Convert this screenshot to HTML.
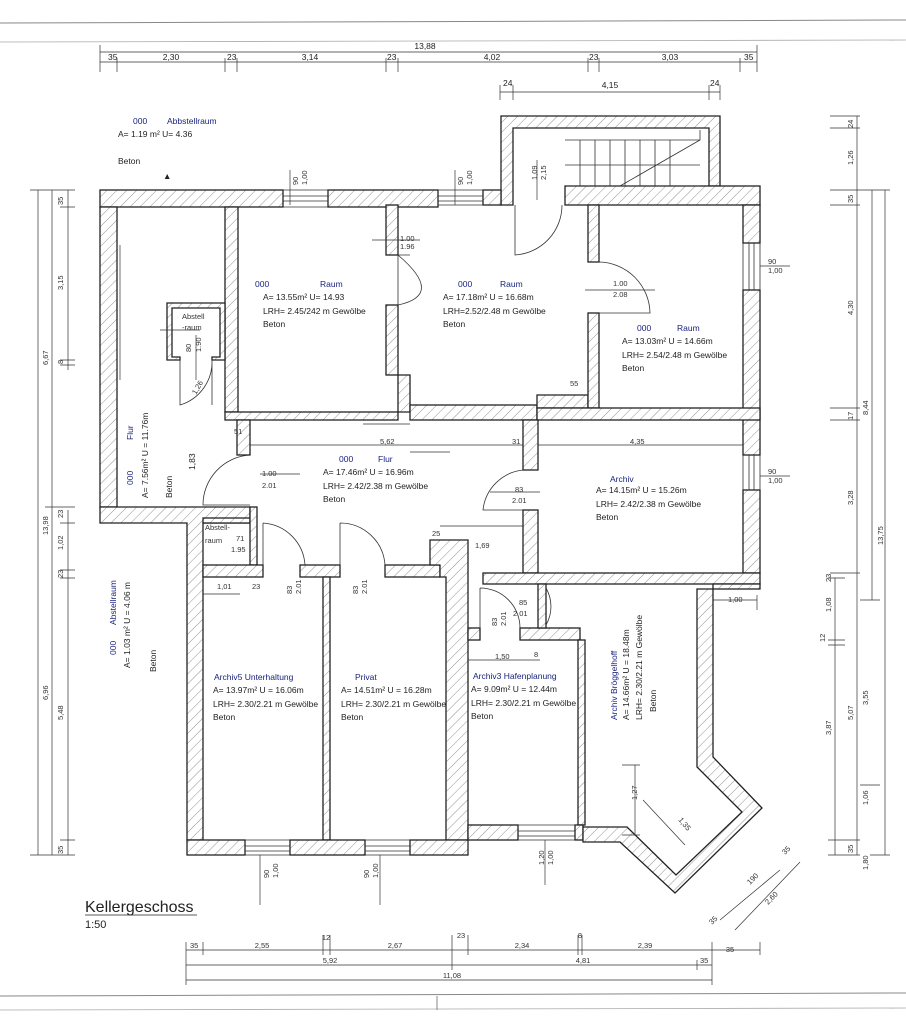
<!DOCTYPE html>
<html><head><meta charset="utf-8"><style>
html,body{margin:0;padding:0;background:#fff}
svg{display:block}
text{font-family:"Liberation Sans",sans-serif;font-size:8.5px;fill:#222}
.b{fill:#1a237e}
.s{font-size:7.5px;fill:#333}
</style></head><body>
<svg width="906" height="1024" viewBox="0 0 906 1024" xmlns="http://www.w3.org/2000/svg">
<defs>
<pattern id="h" width="7" height="7" patternUnits="userSpaceOnUse" patternTransform="rotate(45)">
<rect width="7" height="7" fill="#fff"/><line x1="0" y1="0" x2="0" y2="7" stroke="#777" stroke-width="0.8"/>
</pattern>
</defs>
<line x1="0" y1="23" x2="906" y2="20" stroke="#888" stroke-width="1"/>
<line x1="0" y1="42" x2="906" y2="40" stroke="#aaa" stroke-width="0.8"/>
<line x1="0" y1="996" x2="906" y2="993" stroke="#888" stroke-width="1"/>
<line x1="0" y1="1010" x2="906" y2="1008" stroke="#aaa" stroke-width="0.8"/>
<line x1="437" y1="996" x2="437" y2="1010" stroke="#888"/>

<g fill="url(#h)" stroke="#222" stroke-width="1.3">
<path d="M501,116 H720 V186 H709 V128 H513 V205 H501 Z"/>
<rect x="100" y="190" width="183" height="17"/>
<rect x="328" y="190" width="110" height="17"/>
<rect x="483" y="190" width="18" height="15"/>
<rect x="565" y="186" width="195" height="19"/>
<rect x="100" y="207" width="17" height="300"/>
<path d="M100,507 H250 V523 H203 V840 H187 V523 H100 Z"/>
<rect x="743" y="205" width="17" height="38"/>
<rect x="743" y="290" width="17" height="165"/>
<rect x="743" y="490" width="17" height="83"/>
<rect x="225" y="207" width="13" height="205"/>
<rect x="225" y="412" width="173" height="8"/>
<rect x="237" y="420" width="13" height="35"/>
<rect x="386" y="205" width="12" height="50"/>
<rect x="386" y="305" width="12" height="70"/>
<path d="M398,375 H410 V412 H398 Z"/>
<rect x="410" y="405" width="127" height="15"/>
<path d="M537,395 H588 V408 H537 Z"/>
<rect x="588" y="205" width="11" height="57"/>
<rect x="588" y="313" width="11" height="95"/>
<rect x="537" y="408" width="223" height="12"/>
<rect x="523" y="420" width="15" height="50"/>
<rect x="523" y="510" width="15" height="63"/>
<rect x="483" y="573" width="277" height="11"/>
<rect x="713" y="584" width="47" height="5"/>
<path d="M167,303 H225 V360 H212 V357 H220 V308 H172 V357 H180 V360 H167 Z"/>
<rect x="203" y="518" width="47" height="5"/>
<rect x="250" y="507" width="7" height="58"/>
<rect x="203" y="565" width="60" height="12"/>
<rect x="300" y="565" width="40" height="12"/>
<rect x="385" y="565" width="55" height="12"/>
<rect x="323" y="577" width="7" height="263"/>
<path d="M430,540 H468 V840 H446 V577 H440 V565 H430 Z"/>
<rect x="468" y="628" width="12" height="12"/>
<rect x="520" y="628" width="60" height="12"/>
<rect x="538" y="584" width="8" height="44"/>
<rect x="578" y="640" width="7" height="185"/>
<rect x="187" y="840" width="58" height="15"/>
<rect x="290" y="840" width="75" height="15"/>
<rect x="410" y="840" width="58" height="15"/>
<rect x="468" y="825" width="50" height="15"/>
<rect x="575" y="825" width="8" height="15"/>
<path d="M713,589 V757 L762,808 L675,893 L620,842 H583 V827 H627 L676,875 L742,812 L697,767 V589 Z"/>
</g>
<g fill="none" stroke="#333" stroke-width="0.8">
<path d="M283,190 H328 M283,196 H328 M283,201 H328 M283,207 H328"/>
<path d="M438,190 H483 M438,196 H483 M438,201 H483 M438,205 H483"/>
<path d="M245,840 H290 M245,846 H290 M245,851 H290 M245,855 H290"/>
<path d="M365,840 H410 M365,846 H410 M365,851 H410 M365,855 H410"/>
<path d="M518,825 H575 M518,831 H575 M518,836 H575 M518,840 H575"/>
<path d="M743,243 V290 M749,243 V290 M754,243 V290 M760,243 V290"/>
<path d="M743,455 V490 M749,455 V490 M754,455 V490 M760,455 V490"/>
<path d="M565,140 H700 M565,165 H700 M565,186 H700"/>
<path d="M580,140 V186 M595,140 V186 M610,140 V186 M625,140 V186 M640,140 V186 M655,140 V186 M670,140 V186"/>
<path d="M620,186 L700,140 V130"/>
<path d="M398,255 H410 M398,255 V305 M398,255 Q445,295 398,305"/>
<path d="M515,205 V255 A50,50 0 0 0 562,205"/>
<path d="M599,262 A52,52 0 0 1 650,313 H599"/>
<path d="M180,360 V405 A45,45 0 0 0 212,360 M212,360 V405"/>
<path d="M250,455 A50,50 0 0 0 203,505 H250"/>
<path d="M523,470 A45,45 0 0 0 483,510 H523"/>
<path d="M263,523 A45,45 0 0 1 305,565 M263,523 V565"/>
<path d="M340,523 A45,45 0 0 1 385,565 M340,523 V565"/>
<path d="M480,588 A40,40 0 0 1 520,628 M480,588 V628"/>
<path d="M546,588 A37,37 0 0 1 546,625"/>
</g>

<g stroke="#333" stroke-width="0.7" fill="none">
<path d="M100,52 H757 M100,62 H757 M500,92 H720"/>
<path d="M100,45 V72 M117,58 V72 M225,58 V72 M237,58 V72 M386,58 V72 M398,58 V72 M588,58 V72 M599,58 V72 M740,58 V72 M757,45 V72 M500,85 V100 M513,85 V100 M709,85 V100 M720,85 V100"/>
<path d="M38,190 V855 M52,190 V855 M68,190 V370 M68,510 V855"/>
<path d="M30,190 H75 M60,207 H75 M60,360 H75 M60,365 H75 M45,507 H75 M60,523 H75 M60,570 H75 M60,578 H75 M30,855 H75 M60,840 H75"/>
<path d="M835,578 V855 M857,116 V855 M872,190 V600 M885,190 V855"/>
<path d="M830,116 H860 M830,128 H860 M830,190 H890 M830,205 H860 M830,408 H860 M830,420 H860 M830,573 H860 M828,578 H845 M828,640 H845 M828,645 H845 M860,600 H880 M860,785 H880 M828,840 H860 M828,855 H860 M870,855 H890"/>
<path d="M186,950 H760 M186,965 H712 M186,980 H712"/>
<path d="M186,942 V985 M203,942 V955 M323,935 V955 M330,935 V955 M452,935 V970 M468,935 V955 M578,935 V955 M582,935 V955 M712,942 V985 M760,942 V955 M697,960 V970"/>
<path d="M643,800 L685,845 M635,765 V835 M622,765 H640 M622,835 H640"/>
<path d="M780,870 L720,920 M800,862 L735,930 M713,600 H757 M757,595 V610"/>
<path d="M363,424 H410 M250,445 H523 M538,445 H743 M410,452 H450 M490,492 H540 M440,526 H523 M203,594 H240 M468,660 H540 M372,240 H420 M585,290 H655 M260,474 H300 M160,330 H200"/>
</g>
<g stroke="#333" stroke-width="0.7">
<line x1="290" y1="170" x2="290" y2="205"/><line x1="455" y1="170" x2="455" y2="205"/>
<line x1="537" y1="160" x2="537" y2="200"/>
<line x1="760" y1="266" x2="790" y2="266"/><line x1="760" y1="476" x2="790" y2="476"/>
<line x1="260" y1="855" x2="260" y2="905"/><line x1="380" y1="855" x2="380" y2="905"/><line x1="545" y1="840" x2="545" y2="885"/>
<line x1="196" y1="335" x2="196" y2="380"/>
<line x1="120" y1="245" x2="120" y2="380"/>
</g>

<g>
<text x="425" y="49" text-anchor="middle">13,88</text>
<text x="108" y="60">35</text><text x="171" y="60" text-anchor="middle">2,30</text>
<text x="227" y="60">23</text><text x="310" y="60" text-anchor="middle">3,14</text>
<text x="387" y="60">23</text><text x="492" y="60" text-anchor="middle">4,02</text>
<text x="589" y="60">23</text><text x="670" y="60" text-anchor="middle">3,03</text>
<text x="744" y="60">35</text>
<text x="503" y="86">24</text><text x="610" y="88" text-anchor="middle">4,15</text><text x="710" y="86">24</text>

<text x="133" y="124" class="b">000</text><text x="167" y="124" class="b">Abbstellraum</text>
<text x="118" y="137">A=  1.19 m²  U=  4.36</text>
<text x="118" y="164">Beton</text>
<text x="163" y="179">▲</text>

<text x="255" y="287" class="b">000</text><text x="320" y="287" class="b">Raum</text>
<text x="263" y="300">A= 13.55m²  U= 14.93</text>
<text x="263" y="314">LRH= 2.45/242 m Gewölbe</text>
<text x="263" y="327">Beton</text>

<text x="458" y="287" class="b">000</text><text x="500" y="287" class="b">Raum</text>
<text x="443" y="300">A= 17.18m²  U = 16.68m</text>
<text x="443" y="314">LRH=2.52/2.48 m Gewölbe</text>
<text x="443" y="327">Beton</text>

<text x="637" y="331" class="b">000</text><text x="677" y="331" class="b">Raum</text>
<text x="622" y="344">A= 13.03m²  U = 14.66m</text>
<text x="622" y="358">LRH= 2.54/2.48 m Gewölbe</text>
<text x="622" y="371">Beton</text>

<text x="182" y="319" class="s">Abstell</text><text x="182" y="330" class="s">-raum</text>
<text class="s" transform="translate(191,352) rotate(-90)">80</text>
<text class="s" transform="translate(201,352) rotate(-90)">1.90</text>
<text class="s" transform="translate(196,395) rotate(-60)">1,26</text>

<text x="339" y="462" class="b">000</text><text x="378" y="462" class="b">Flur</text>
<text x="323" y="475">A= 17.46m²  U = 16.96m</text>
<text x="323" y="489">LRH= 2.42/2.38 m Gewölbe</text>
<text x="323" y="502">Beton</text>

<text x="610" y="482" class="b">Archiv</text>
<text x="596" y="493">A= 14.15m²  U = 15.26m</text>
<text x="596" y="507">LRH= 2.42/2.38 m Gewölbe</text>
<text x="596" y="520">Beton</text>

<text class="b" transform="translate(133,440) rotate(-90)">Flur</text>
<text class="b" transform="translate(133,485) rotate(-90)">000</text>
<text transform="translate(148,498) rotate(-90)">A=  7.56m²  U = 11.76m</text>
<text transform="translate(172,498) rotate(-90)">Beton</text>
<text transform="translate(195,470) rotate(-90)">1,83</text>

<text class="b" transform="translate(116,625) rotate(-90)">Abstellraum</text>
<text class="b" transform="translate(116,655) rotate(-90)">000</text>
<text transform="translate(130,668) rotate(-90)">A= 1.03 m²  U = 4.06 m</text>
<text transform="translate(156,672) rotate(-90)">Beton</text>

<text x="205" y="530" class="s">Abstell-</text><text x="205" y="543" class="s">raum</text>
<text x="236" y="541" class="s">71</text><text x="231" y="552" class="s">1.95</text>

<text x="262" y="476" class="s">1.00</text><text x="262" y="488" class="s">2.01</text>
<text x="400" y="241" class="s">1.00</text><text x="400" y="249" class="s">1.96</text>
<text x="613" y="286" class="s">1.00</text><text x="613" y="297" class="s">2.08</text>
<text x="515" y="492" class="s">83</text><text x="512" y="503" class="s">2.01</text>
<text x="234" y="434" class="s">51</text>
<text x="380" y="444" class="s" fill="#888">5,62</text>
<text x="512" y="444" class="s">31</text>
<text x="630" y="444" class="s">4,35</text>
<text x="570" y="386" class="s">55</text>
<text x="475" y="548" class="s">1,69</text>
<text x="432" y="536" class="s">25</text>
<text x="217" y="589" class="s" fill="#888">1,01</text><text x="252" y="589" class="s">23</text>
<text x="519" y="605" class="s">85</text><text x="513" y="616" class="s">2.01</text>
<text x="495" y="659" class="s">1,50</text><text x="534" y="657" class="s">8</text>
<text class="s" transform="translate(292,594) rotate(-90)">83</text>
<text class="s" transform="translate(301,594) rotate(-90)" fill="#888">2.01</text>
<text class="s" transform="translate(358,594) rotate(-90)">83</text>
<text class="s" transform="translate(367,594) rotate(-90)" fill="#888">2.01</text>
<text class="s" transform="translate(497,626) rotate(-90)">83</text>
<text class="s" transform="translate(506,626) rotate(-90)">2.01</text>
<text class="s" transform="translate(298,185) rotate(-90)">90</text>
<text class="s" transform="translate(307,185) rotate(-90)">1,00</text>
<text class="s" transform="translate(463,185) rotate(-90)">90</text>
<text class="s" transform="translate(472,185) rotate(-90)">1,00</text>
<text class="s" transform="translate(537,180) rotate(-90)">1,09</text>
<text class="s" transform="translate(546,180) rotate(-90)">2,15</text>
<text x="768" y="264" class="s">90</text><text x="768" y="273" class="s">1,00</text>
<text x="768" y="474" class="s">90</text><text x="768" y="483" class="s">1,00</text>
<text x="728" y="602" class="s">1,00</text>

<text x="214" y="680" class="b">Archiv5  Unterhaltung</text>
<text x="213" y="693">A= 13.97m²  U = 16.06m</text>
<text x="213" y="707">LRH= 2.30/2.21 m Gewölbe</text>
<text x="213" y="720">Beton</text>
<text x="355" y="680" class="b">Privat</text>
<text x="341" y="693">A= 14.51m²  U = 16.28m</text>
<text x="341" y="707">LRH= 2.30/2.21 m Gewölbe</text>
<text x="341" y="720">Beton</text>
<text x="473" y="679" class="b">Archiv3  Hafenplanung</text>
<text x="471" y="692">A=  9.09m²  U = 12.44m</text>
<text x="471" y="706">LRH= 2.30/2.21 m Gewölbe</text>
<text x="471" y="719">Beton</text>
<text class="b" transform="translate(617,720) rotate(-90)">Archiv    Bröggelhoff</text>
<text transform="translate(629,720) rotate(-90)">A= 14.66m²  U = 18.48m</text>
<text transform="translate(642,720) rotate(-90)">LRH= 2.30/2.21 m Gewölbe</text>
<text transform="translate(656,712) rotate(-90)">Beton</text>
<text class="s" transform="translate(637,800) rotate(-90)">1,27</text>
<text class="s" transform="translate(678,820) rotate(50)">1,35</text>
<text class="s" transform="translate(269,878) rotate(-90)">90</text>
<text class="s" transform="translate(278,878) rotate(-90)">1,00</text>
<text class="s" transform="translate(369,878) rotate(-90)">90</text>
<text class="s" transform="translate(378,878) rotate(-90)">1,00</text>
<text class="s" transform="translate(544,865) rotate(-90)">1,20</text>
<text class="s" transform="translate(553,865) rotate(-90)">1,00</text>
<text class="s" transform="translate(750,885) rotate(-45)">190</text>
<text class="s" transform="translate(768,905) rotate(-45)">2,60</text>
<text class="s" transform="translate(785,855) rotate(-45)">35</text>
<text class="s" transform="translate(712,925) rotate(-45)">35</text>

<text x="85" y="912" style="font-size:16px">Kellergeschoss</text>
<line x1="85" y1="915" x2="197" y2="915" stroke="#222" stroke-width="0.8"/>
<text x="85" y="928" style="font-size:11px">1:50</text>

<text x="190" y="948" class="s">35</text><text x="262" y="948" class="s" text-anchor="middle">2,55</text>
<text x="326" y="940" class="s" text-anchor="middle">12</text><text x="395" y="948" class="s" text-anchor="middle">2,67</text>
<text x="461" y="938" class="s" text-anchor="middle">23</text><text x="522" y="948" class="s" text-anchor="middle">2,34</text>
<text x="580" y="938" class="s" text-anchor="middle">8</text><text x="645" y="948" class="s" text-anchor="middle">2,39</text>
<text x="730" y="952" class="s" text-anchor="middle">35</text>
<text x="330" y="963" class="s" text-anchor="middle">5,92</text><text x="583" y="963" class="s" text-anchor="middle">4,81</text>
<text x="700" y="963" class="s">35</text>
<text x="452" y="978" class="s" text-anchor="middle">11,08</text>

<text class="s" transform="translate(63,205) rotate(-90)">35</text>
<text class="s" transform="translate(63,290) rotate(-90)">3,15</text>
<text class="s" transform="translate(63,364) rotate(-90)">8</text>
<text class="s" transform="translate(48,365) rotate(-90)">6,67</text>
<text class="s" transform="translate(48,535) rotate(-90)">13,98</text>
<text class="s" transform="translate(63,518) rotate(-90)">23</text>
<text class="s" transform="translate(63,550) rotate(-90)">1,02</text>
<text class="s" transform="translate(63,578) rotate(-90)">23</text>
<text class="s" transform="translate(48,700) rotate(-90)">6,96</text>
<text class="s" transform="translate(63,720) rotate(-90)">5,48</text>
<text class="s" transform="translate(63,854) rotate(-90)">35</text>
<text class="s" transform="translate(853,128) rotate(-90)">24</text>
<text class="s" transform="translate(853,165) rotate(-90)">1,26</text>
<text class="s" transform="translate(853,203) rotate(-90)">35</text>
<text class="s" transform="translate(853,315) rotate(-90)">4,30</text>
<text class="s" transform="translate(853,420) rotate(-90)">17</text>
<text class="s" transform="translate(868,415) rotate(-90)">8,44</text>
<text class="s" transform="translate(853,505) rotate(-90)">3,28</text>
<text class="s" transform="translate(883,545) rotate(-90)">13,75</text>
<text class="s" transform="translate(831,582) rotate(-90)">23</text>
<text class="s" transform="translate(831,612) rotate(-90)">1,08</text>
<text class="s" transform="translate(825,642) rotate(-90)">12</text>
<text class="s" transform="translate(831,735) rotate(-90)">3,87</text>
<text class="s" transform="translate(853,720) rotate(-90)">5,07</text>
<text class="s" transform="translate(868,705) rotate(-90)">3,55</text>
<text class="s" transform="translate(868,805) rotate(-90)">1,06</text>
<text class="s" transform="translate(853,853) rotate(-90)">35</text>
<text class="s" transform="translate(868,870) rotate(-90)">1,80</text>
</g>
</svg>
</body></html>
